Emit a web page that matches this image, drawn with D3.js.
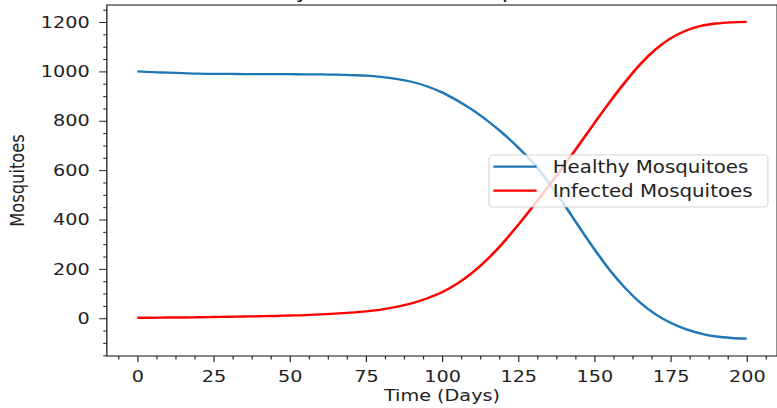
<!DOCTYPE html>
<html>
<head>
<meta charset="utf-8">
<script src="https://cdn.jsdelivr.net/npm/d3@7"></script>
<style>
  html, body { margin: 0; padding: 0; background: #fff; overflow: hidden; }
  svg { display: block; }
  text { font-family: "DejaVu Sans", sans-serif; fill: #222; }
</style>
</head>
<body>
<div id="chart"></div>
<script>
// values
const days = [0, 5, 10, 15, 20, 25, 30, 35, 40, 45, 50, 55, 60, 65, 70, 75, 80, 85, 90, 95,
              100, 105, 110, 115, 120, 125, 130, 135, 140, 145, 150, 155, 160, 165, 170, 175,
              180, 185, 190, 195, 200];
const healthy = [1000, 997, 995, 993, 991, 990, 990, 989, 989, 989, 989, 988, 988, 987, 985, 983,
                 978, 970, 958, 940, 915, 882, 844, 799, 749, 692, 628, 550, 462, 370, 280, 196,
                 124, 64, 17, -18, -44, -62, -74, -80, -83];
const infected = [2, 2, 3, 3, 4, 5, 6, 7, 8, 9, 11, 13, 16, 19, 23, 28, 35, 46, 60, 80,
                  105, 140, 185, 240, 305, 378, 455, 535, 617, 703, 790, 875, 955, 1028, 1088, 1134,
                  1165, 1184, 1194, 1199, 1201];
const seriesNames = ["Healthy Mosquitoes", "Infected Mosquitoes"];
const seriesColors = ["#1f77b4", "red"];
const xTicks = [0, 25, 50, 75, 100, 125, 150, 175, 200];
const yTicks = [0, 200, 400, 600, 800, 1000, 1200];

const width = 777, height = 408;
// the original image is stretched sideways, so draw into a narrower viewBox
// and let the svg widen it
const stretch = 1.18;
const vbW = width / stretch;

const svg = d3.select("#chart")
    .append("svg")
    .attr("width", width)
    .attr("height", height)
    .attr("viewBox", "0 0 " + vbW + " " + height)
    .attr("preserveAspectRatio", "none");

const x = d3.scaleLinear().domain([-10, 210]).range([90.54, 658.6]);
const y = d3.scaleLinear().domain([-153, 1269]).range([356, 5]);

const series = [healthy, infected];

// lines
const line = d3.line()
    .x((d, i) => x(days[i]))
    .y(d => y(d))
    .curve(d3.curveMonotoneX);

svg.append("g")
    .selectAll("path")
    .data(series)
    .enter()
    .append("path")
    .attr("d", d => line(d))
    .attr("fill", "none")
    .attr("stroke", (d, i) => seriesColors[i])
    .attr("stroke-width", 2.3);

// axes
const fontSize = 16.3;

const xMinor = d3.range(-6.25, 210, 6.25).filter(v => v % 25 !== 0);
const yMinor = d3.range(-150, 1269, 50).filter(v => v % 200 !== 0);

svg.append("g")
    .attr("transform", "translate(0," + y.range()[0] + ")")
    .style("color", "#222")
    .call(d3.axisBottom(x).tickValues(xMinor).tickSize(3.4).tickFormat(""))
    .call(g => g.select(".domain").remove());

svg.append("g")
    .attr("transform", "translate(0," + y.range()[0] + ")")
    .style("color", "#222")
    .call(d3.axisBottom(x).tickValues(xTicks).tickSize(6).tickPadding(8).tickFormat(d3.format("d")))
    .call(g => g.select(".domain").remove())
    .call(g => g.selectAll("text").attr("font-size", fontSize).attr("font-family", null));

svg.append("g")
    .attr("transform", "translate(" + x.range()[0] + ",0)")
    .style("color", "#222")
    .call(d3.axisLeft(y).tickValues(yMinor).tickSize(3.1).tickFormat(""))
    .call(g => g.select(".domain").remove());

svg.append("g")
    .attr("transform", "translate(" + x.range()[0] + ",0)")
    .style("color", "#222")
    .call(d3.axisLeft(y).tickValues(yTicks).tickSize(6.5).tickPadding(8).tickFormat(d3.format("d")))
    .call(g => g.select(".domain").remove())
    .call(g => g.selectAll("text").attr("font-size", fontSize).attr("font-family", null));

// frame
svg.append("rect")
    .attr("x", x.range()[0])
    .attr("y", y.range()[1])
    .attr("width", x.range()[1] - x.range()[0])
    .attr("height", y.range()[0] - y.range()[1])
    .attr("fill", "none")
    .attr("stroke", "#222")
    .attr("stroke-width", 1.1);

// labels
svg.append("text")
    .attr("x", (x.range()[0] + x.range()[1]) / 2)
    .attr("y", 401)
    .attr("text-anchor", "middle")
    .attr("font-size", fontSize)
    .text("Time (Days)");

svg.append("text")
    .attr("transform", "translate(20.2," + (y.range()[0] + y.range()[1]) / 2 + ") rotate(-90)")
    .attr("text-anchor", "middle")
    .attr("font-size", fontSize)
    .text("Mosquitoes");

// title is cut off by the top of the picture, only the descenders show
svg.append("text")
    .attr("x", (x.range()[0] + x.range()[1]) / 2)
    .attr("y", -2.5)
    .attr("text-anchor", "middle")
    .attr("font-size", 19.6)
    .text("Healthy, Infected Count plot over time");

// legend
const legend = svg.append("g")
    .attr("transform", "translate(414.4,155)");

legend.append("rect")
    .attr("width", 236.4)
    .attr("height", 52)
    .attr("rx", 3)
    .attr("ry", 3.5)
    .attr("fill", "white")
    .attr("fill-opacity", 0.8)
    .attr("stroke", "#cccccc")
    .attr("stroke-opacity", 0.8)
    .attr("stroke-width", 1);

const item = legend.selectAll(".item")
    .data(seriesNames)
    .enter()
    .append("g")
    .attr("class", "item")
    .attr("transform", (d, i) => "translate(0," + (11.7 + i * 24) + ")");

item.append("line")
    .attr("x1", 3.7)
    .attr("x2", 40.4)
    .attr("stroke", (d, i) => seriesColors[i])
    .attr("stroke-width", 2.3);

item.append("text")
    .attr("x", 54)
    .attr("y", 6.6)
    .attr("font-size", 16.8)
    .text(d => d);
</script>
</body>
</html>
